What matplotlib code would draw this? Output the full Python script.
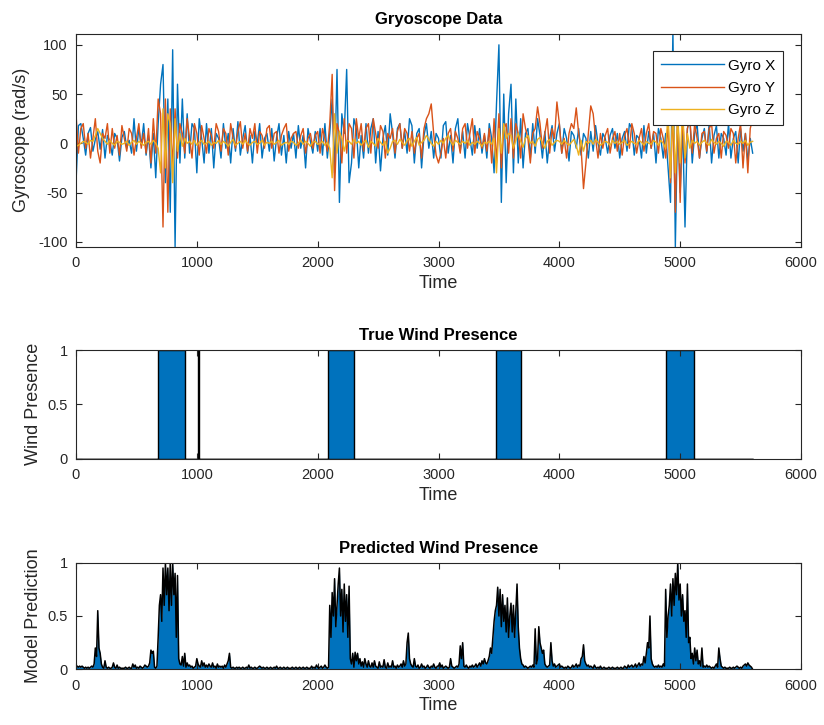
import numpy as np
import matplotlib
matplotlib.use("Agg")
import matplotlib.pyplot as plt

plt.rcParams['font.family'] = ['Liberation Sans', 'DejaVu Sans']
plt.rcParams['axes.unicode_minus'] = False

# gyro sampled every 20 time units, 0..5600
step = 20

gyro_x = [
    -40, 18, 20, 5, -12, 10, 16, -8, 4, 12,
    -6, 14, -15, 8, 2, -12, 10, 5, -18, 6,
    12, -5, 3, -10, 25, -8, 15, -2, 20, -12,
    8, -25, 10, -35, 20, 60, 80, -40, 45, -70,
    95, -105, 60, -20, 45, -15, 30, -10, 20, 15,
    -30, 25, 5, -20, 20, -10, 15, -25, 10, 5,
    -15, 20, -5, 10, -20, 15, -8, 22, -12, 5,
    18, -10, 8, -20, 12, 0, 20, -15, 5, 10,
    -8, 15, -18, 6, 20, -12, 8, -20, 12, -5,
    10, -15, 18, -5, 8, -25, 15, 2, -10, 12,
    -8, 15, -12, 20, -15, 10, 45, -30, 75, -60,
    30, 10, 75, -40, -20, 25, 15, -25, 8, -15,
    20, -10, 15, 25, -20, 12, -28, 5, 18, -12,
    30, 10, -15, 15, 20, -5, 12, -10, 25, 18,
    -20, 10, 15, -25, 8, 20, -5, 12, -15, 10,
    5, -15, 18, 22, -10, 8, -20, 15, 25, -8,
    12, -15, 20, 5, -12, 18, -5, 15, -10, 8,
    -15, 20, 5, -30, 40, 100, -60, 50, -40, 30,
    60, -30, 45, -20, 25, -25, 10, 15, -15, 20,
    -10, 25, 8, -15, 12, -20, 5, 18, -8, 10,
    20, -10, 15, 5, -18, 12, 8, -5, 15, -12,
    10, 5, -15, 12, -8, 18, 0, -12, 10, 5,
    -10, 8, 15, -5, 10, -15, 5, 12, -8, 20,
    15, -12, 8, 5, -15, 18, -10, 12, -5, 10,
    -20, 15, 5, -15, 10, -25, -60, 115, -105, 30,
    -50, 20, -85, 15, 25, -20, 10, 20, -15, 5,
    15, -10, 20, -20, 8, 18, -15, 10, 5, -12,
    20, -15, 5, 12, -20, 15, -8, 10, -18, 5,
    -10,
]

gyro_y = [
    30, -10, 15, 20, -5, 10, -15, 5, 25, -8,
    -20, 10, 5, 20, -10, 15, -5, 8, -12, 18,
    5, -8, 15, 10, -12, 5, 20, -5, 10, -10,
    15, -20, 25, -10, 45, 30, -85, 45, -70, 35,
    -25, 35, -15, 20, 10, -10, 25, 5, -15, 20,
    10, -12, 18, 5, -10, 15, 8, -5, 20, 12,
    -8, 15, 10, -12, 20, 5, -5, 12, 22, -5,
    10, -8, 15, 5, 20, -10, 12, 8, -5, 15,
    18, -5, 10, 12, -10, 8, 15, 20, -8, 5,
    10, 12, -5, 8, 15, -10, 5, 10, -5, 8,
    12, -10, 15, 5, -8, 20, 70, -48, 20, 10,
    -20, 25, -10, 20, 15, -15, 25, 5, 20, -8,
    15, 20, -10, 25, 10, -5, 18, 12, -15, 10,
    5, 15, -10, 12, 20, -5, 15, 10, -8, 12,
    -10, 5, 10, -15, 15, 25, 30, 40, 10, -12,
    -20, -10, 5, -15, 10, 15, -8, 12, 5, -10,
    15, 20, -5, 10, 25, -10, 12, 5, -5, 10,
    -8, 15, -20, 25, -20, 30, -25, 15, 20, -10,
    25, -15, 20, 10, -15, 30, 15, 5, -20, 10,
    15, 37, 20, -5, 10, 25, -10, 15, 5, 42,
    20, -10, 5, -15, 10, 20, 15, 36, 10, -5,
    -46, -20, 10, 38, 30, 5, -15, 10, -5, 8,
    15, -10, 5, 12, -8, 10, -12, 8, 15, -5,
    20, 10, -10, 5, 15, -8, 10, 20, -5, 12,
    10, -10, 15, 5, -15, 20, -40, 35, -70, 40,
    -60, 30, -20, 15, 25, -10, 20, 5, -15, 10,
    12, -8, 15, 20, -10, 5, 10, -15, 12, 8,
    -5, 15, 10, -20, 5, 20, -25, 10, -30, 15,
    25,
]

gyro_z = [
    -3, -2, 0, 2, 1, -1, 3, 2, 8, 15,
    10, 5, 2, -1, 3, 0, -2, 2, 1, -1,
    0, 2, -2, 1, 3, -1, 2, 0, -2, 1,
    2, -1, 3, 0, -5, -30, 35, -25, 30, 20,
    -40, 25, -8, 10, -3, 5, 0, 2, -1, 3,
    -2, 1, 3, -1, 0, 2, -2, 1, 0, 3,
    -1, 2, 0, -3, 1, 4, -2, 0, 2, -1,
    3, 0, -2, 1, 2, -1, 0, 3, -2, 1,
    0, 2, -1, 1, 3, -2, 0, 1, -1, 2,
    1, -2, 0, 3, -1, 2, 0, -3, 1, 2,
    -1, 0, 2, -2, 1, -5, -35, 30, -10, 12,
    5, -8, 3, 2, -1, 4, 0, 2, -2, 1,
    3, -4, 2, 0, -3, 5, 1, -2, 2, -10,
    -5, 2, 3, -1, 4, 1, -2, 3, 5, -3,
    2, 6, -2, 1, 3, 8, 4, 0, -3, 2,
    -1, 3, 0, 5, 8, 2, -2, 3, 1, -1,
    2, 0, 3, -2, 1, -1, 2, 0, -3, 1,
    0, 2, -1, 5, -30, 15, -10, 20, 5, 10,
    8, -5, 3, 10, 2, -4, 5, 8, 0, 2,
    -3, 4, 6, 0, -5, 2, 4, -2, 1, 3,
    2, -1, 3, 0, -2, 1, 4, -2, -12, 3,
    -8, 2, 0, 3, -1, 4, 1, -2, 0, 2,
    1, -2, 3, 0, 2, -1, 1, 3, -2, 0,
    2, 0, -1, 3, 1, -2, 2, 0, -1, 3,
    1, -2, 3, 0, -5, 30, -35, 40, -30, 25,
    -20, 35, -15, 10, -5, 3, 0, 2, -2, 1,
    3, 0, -2, 4, 1, -1, 2, 0, -3, 2,
    1, -2, 3, 0, -1, 2, 0, 3, -2, 1,
    2,
]

# model output sampled every 10 time units, 0..5600
pred_step = 10
prediction = [
    0.02, 0.03, 0.02, 0.03, 0.02, 0.03, 0.02, 0.01, 0.02, 0.01, 0.02, 0.01, 0.02, 0.03, 0.02, 0.05, 0.20, 0.12, 0.55, 0.20,
    0.15, 0.05, 0.02, 0.01, 0.08, 0.02, 0.01, 0.02, 0.01, 0.01, 0.02, 0.06, 0.02, 0.01, 0.04, 0.01, 0.02, 0.01, 0.01, 0.01,
    0.01, 0.02, 0.01, 0.01, 0.02, 0.01, 0.01, 0.05, 0.02, 0.04, 0.01, 0.02, 0.01, 0.03, 0.02, 0.01, 0.02, 0.04, 0.03, 0.02,
    0.03, 0.06, 0.18, 0.15, 0.17, 0.02, 0.01, 0.03, 0.30, 0.60, 0.70, 0.45, 0.95, 0.60, 1.00, 0.70, 0.95, 0.55, 1.00, 0.60,
    1.00, 0.70, 0.90, 0.30, 0.88, 0.10, 0.05, 0.04, 0.12, 0.03, 0.15, 0.02, 0.06, 0.03, 0.04, 0.02, 0.03, 0.01, 0.02, 0.03,
    0.10, 0.05, 0.03, 0.02, 0.08, 0.03, 0.06, 0.02, 0.04, 0.02, 0.05, 0.03, 0.02, 0.06, 0.02, 0.03, 0.01, 0.05, 0.02, 0.03,
    0.02, 0.03, 0.01, 0.04, 0.02, 0.05, 0.08, 0.15, 0.02, 0.01, 0.02, 0.01, 0.01, 0.02, 0.01, 0.02, 0.01, 0.01, 0.02, 0.01,
    0.01, 0.02, 0.01, 0.04, 0.01, 0.02, 0.01, 0.01, 0.02, 0.01, 0.01, 0.02, 0.03, 0.02, 0.01, 0.02, 0.01, 0.01, 0.02, 0.01,
    0.01, 0.02, 0.01, 0.01, 0.02, 0.01, 0.03, 0.01, 0.01, 0.02, 0.01, 0.01, 0.02, 0.01, 0.01, 0.02, 0.01, 0.01, 0.01, 0.02,
    0.01, 0.01, 0.02, 0.01, 0.01, 0.02, 0.01, 0.01, 0.02, 0.01, 0.01, 0.02, 0.01, 0.01, 0.01, 0.03, 0.01, 0.02, 0.01, 0.04,
    0.02, 0.01, 0.02, 0.03, 0.01, 0.02, 0.04, 0.02, 0.01, 0.02, 0.60, 0.30, 0.72, 0.50, 0.85, 0.40, 0.60, 0.80, 0.95, 0.50,
    0.75, 0.35, 0.80, 0.45, 0.70, 0.30, 0.78, 0.10, 0.05, 0.15, 0.02, 0.16, 0.08, 0.15, 0.05, 0.10, 0.03, 0.07, 0.02, 0.10,
    0.05, 0.02, 0.08, 0.03, 0.02, 0.06, 0.02, 0.08, 0.03, 0.02, 0.01, 0.07, 0.02, 0.03, 0.02, 0.09, 0.02, 0.01, 0.06, 0.02,
    0.03, 0.02, 0.08, 0.02, 0.03, 0.01, 0.04, 0.02, 0.03, 0.05, 0.02, 0.08, 0.03, 0.05, 0.25, 0.34, 0.10, 0.05, 0.03, 0.02,
    0.10, 0.03, 0.02, 0.04, 0.01, 0.02, 0.05, 0.02, 0.03, 0.01, 0.02, 0.04, 0.02, 0.01, 0.03, 0.02, 0.05, 0.02, 0.01, 0.03,
    0.03, 0.06, 0.02, 0.04, 0.01, 0.02, 0.03, 0.02, 0.01, 0.02, 0.10, 0.03, 0.02, 0.01, 0.02, 0.03, 0.02, 0.05, 0.22, 0.10,
    0.25, 0.03, 0.02, 0.04, 0.02, 0.01, 0.03, 0.02, 0.04, 0.02, 0.03, 0.05, 0.02, 0.04, 0.06, 0.03, 0.08, 0.05, 0.10, 0.06,
    0.05, 0.08, 0.12, 0.20, 0.15, 0.30, 0.45, 0.55, 0.60, 0.77, 0.50, 0.75, 0.40, 0.70, 0.45, 0.60, 0.35, 0.67, 0.30, 0.50,
    0.62, 0.35, 0.60, 0.30, 0.55, 0.80, 0.40, 0.20, 0.10, 0.05, 0.04, 0.02, 0.03, 0.02, 0.01, 0.02, 0.03, 0.02, 0.04, 0.02,
    0.38, 0.05, 0.10, 0.40, 0.25, 0.20, 0.15, 0.18, 0.05, 0.03, 0.02, 0.03, 0.04, 0.25, 0.08, 0.03, 0.05, 0.02, 0.03, 0.04,
    0.05, 0.02, 0.03, 0.02, 0.01, 0.02, 0.01, 0.03, 0.02, 0.01, 0.02, 0.04, 0.02, 0.03, 0.05, 0.02, 0.04, 0.03, 0.10, 0.12,
    0.23, 0.08, 0.05, 0.03, 0.04, 0.02, 0.03, 0.02, 0.01, 0.04, 0.02, 0.01, 0.02, 0.01, 0.03, 0.01, 0.01, 0.02, 0.01, 0.01,
    0.01, 0.02, 0.01, 0.01, 0.02, 0.01, 0.01, 0.01, 0.02, 0.01, 0.01, 0.02, 0.01, 0.01, 0.03, 0.02, 0.01, 0.04, 0.02, 0.03,
    0.04, 0.02, 0.03, 0.05, 0.02, 0.04, 0.06, 0.03, 0.05, 0.04, 0.12, 0.06, 0.15, 0.25, 0.20, 0.50, 0.10, 0.05, 0.03, 0.02,
    0.03, 0.02, 0.04, 0.02, 0.03, 0.02, 0.05, 0.03, 0.75, 0.30, 0.50, 0.60, 0.80, 0.50, 0.85, 0.60, 0.90, 0.70, 1.00, 0.65,
    0.80, 0.50, 0.70, 0.45, 0.55, 0.30, 0.80, 0.25, 0.30, 0.10, 0.15, 0.05, 0.20, 0.08, 0.18, 0.05, 0.08, 0.03, 0.20, 0.02,
    0.03, 0.02, 0.04, 0.02, 0.03, 0.02, 0.01, 0.02, 0.01, 0.03, 0.05, 0.02, 0.20, 0.10, 0.03, 0.02, 0.01, 0.02, 0.01, 0.01,
    0.01, 0.02, 0.01, 0.01, 0.02, 0.01, 0.02, 0.03, 0.02, 0.01, 0.02, 0.01, 0.03, 0.04, 0.05, 0.03, 0.06, 0.04, 0.03, 0.02,
    0.00,
]

# true wind windows (start, end)
wind_on = [(679, 905), (1010, 1021), (2083, 2301), (3474, 3684), (4879, 5111)]
t_end = 5600

t = np.arange(len(gyro_x)) * step
tp = np.arange(len(prediction)) * pred_step

blue = '#0072BD'
orange = '#D95319'
yellow = '#EDB120'
axc = '#262626'

fig = plt.figure(figsize=(8.24, 7.25), dpi=100)
L, W = 76 / 824, 725 / 824
ax1 = fig.add_axes([L, 1 - 246.7 / 725, W, 212.7 / 725])
ax2 = fig.add_axes([L, 1 - 458.7 / 725, W, 108.7 / 725])
ax3 = fig.add_axes([L, 1 - 669.3 / 725, W, 106.6 / 725])

ax1.plot(t, gyro_x, color=blue, lw=1.0, label='Gyro X')
ax1.plot(t, gyro_y, color=orange, lw=1.0, label='Gyro Y')
ax1.plot(t, gyro_z, color=yellow, lw=1.0, label='Gyro Z')
ax1.set_ylim(-105, 111)
ax1.set_yticks([-100, -50, 0, 50, 100])
ax1.set_title('Gryoscope Data', fontsize=12, fontweight='bold', pad=7)
ax1.set_ylabel('Gyroscope (rad/s)', fontsize=13, color=axc, labelpad=6)
leg = ax1.legend(loc='upper right', bbox_to_anchor=(1 - 18 / 725, 1 - 17 / 212.7),
                 borderaxespad=0, fancybox=False, framealpha=1, fontsize=11,
                 handlelength=4.1, labelspacing=0.55, borderpad=0.5,
                 handletextpad=0.3)
leg.get_frame().set_edgecolor(axc)
leg.get_frame().set_linewidth(0.8)

# step outline of the true wind signal
wt, wv = [0], [0]
for a, b in wind_on:
    wt += [a, a, b, b]
    wv += [0, 1, 1, 0]
wt.append(t_end)
wv.append(0)
ax2.fill_between(wt, wv, color=blue, edgecolor='black', lw=1.0)
ax2.set_ylim(0, 1)
ax2.set_yticks([0, 0.5, 1])
ax2.set_yticklabels(['0', '0.5', '1'])
ax2.set_title('True Wind Presence', fontsize=12, fontweight='bold', pad=7)
ax2.set_ylabel('Wind Presence', fontsize=13, color=axc)

ax3.fill_between(tp, prediction, color=blue, lw=0)
ax3.plot(tp, prediction, color='black', lw=1.1)
ax3.set_ylim(0, 1)
ax3.set_yticks([0, 0.5, 1])
ax3.set_yticklabels(['0', '0.5', '1'])
ax3.set_title('Predicted Wind Presence', fontsize=12, fontweight='bold', pad=7)
ax3.set_ylabel('Model Prediction', fontsize=13, color=axc)

for ax in (ax1, ax2, ax3):
    ax.set_xlim(0, 6000)
    ax.set_xticks(range(0, 6001, 1000))
    ax.set_xlabel('Time', fontsize=13, color=axc, labelpad=3)
    ax.tick_params(direction='in', top=True, right=True, length=4, width=0.8,
                   labelsize=10.5, colors=axc)
    ax.tick_params(axis='x', pad=7)
    ax.tick_params(axis='y', pad=6)
    for s in ax.spines.values():
        s.set_color(axc)
        s.set_linewidth(0.8)

fig.savefig('out.png', dpi=100)
